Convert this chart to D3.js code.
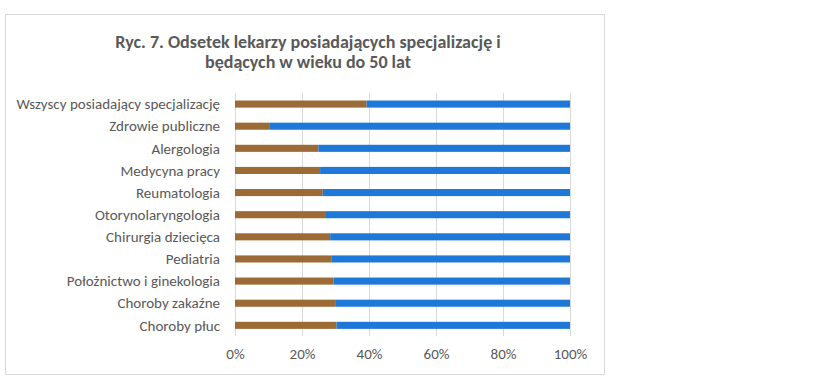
<!DOCTYPE html>
<html>
<head>
<meta charset="utf-8">
<script src="https://cdn.jsdelivr.net/npm/d3@7"></script>
<style>
  body { margin: 0; background: #fff; }
  text { font-family: Carlito, "Open Sans", sans-serif; }
</style>
</head>
<body>
<script>
var w = 814;
var h = 388;

// categories top to bottom
var categories = [
  'Wszyscy posiadający specjalizację',
  'Zdrowie publiczne',
  'Alergologia',
  'Medycyna pracy',
  'Reumatologia',
  'Otorynolaryngologia',
  'Chirurgia dziecięca',
  'Pediatria',
  'Położnictwo i ginekologia',
  'Choroby zakaźne',
  'Choroby płuc'
];
// share of doctors aged up to 50 (%)
var under50 = [39.3, 10.2, 24.9, 25.4, 26.2, 26.9, 28.4, 28.9, 29.4, 29.9, 30.3];
var over50 = under50.map(function(v){ return 100 - v; });
var xTicks = [0, 20, 40, 60, 80, 100];
var titleLines = ['Ryc. 7. Odsetek lekarzy posiadających specjalizację i', 'będących w wieku do 50 lat'];

var svg = d3.select('body').append('svg')
    .attr('width', w)
    .attr('height', h);

// chart frame
svg.append('rect')
    .attr('x', 5.5).attr('y', 14.5)
    .attr('width', 599).attr('height', 360)
    .attr('fill', '#fff')
    .attr('stroke', '#d9d9d9');

svg.selectAll('.title').data(titleLines).enter().append('text')
    .attr('class', 'title')
    .attr('x', 308)
    .attr('y', function(d, i){ return 48 + i * 20; })
    .attr('text-anchor', 'middle')
    .attr('font-size', 18)
    .attr('font-weight', 'bold')
    .attr('fill', '#595959')
    .text(function(d){ return d; });

var x = d3.scaleLinear().domain([0, 100]).range([235, 570]);
var y = d3.scaleBand().domain(categories).range([93, 336.4])
    .paddingInner(0.68).paddingOuter(0.34);

// gridlines
svg.selectAll('.grid').data(xTicks).enter().append('line')
    .attr('x1', function(d){ return x(d) + 0.5; })
    .attr('x2', function(d){ return x(d) + 0.5; })
    .attr('y1', 93).attr('y2', 336)
    .attr('stroke', '#d9d9d9');

var rows = svg.selectAll('.row').data(categories).enter().append('g')
    .attr('transform', function(d){ return 'translate(0,' + y(d) + ')'; });

rows.append('rect')
    .attr('x', x(0))
    .attr('width', function(d, i){ return x(under50[i]) - x(0); })
    .attr('height', y.bandwidth())
    .attr('fill', '#9c6a35');

rows.append('rect')
    .attr('x', function(d, i){ return x(under50[i]); })
    .attr('width', function(d, i){ return x(under50[i] + over50[i]) - x(under50[i]); })
    .attr('height', y.bandwidth())
    .attr('fill', '#1e78d8');

rows.append('text')
    .attr('x', 220)
    .attr('y', y.bandwidth() / 2)
    .attr('dy', '0.35em')
    .attr('text-anchor', 'end')
    .attr('font-size', 15)
    .attr('fill', '#595959')
    .text(function(d){ return d; });

// x axis labels
var xAxis = d3.axisBottom(x).tickValues(xTicks)
    .tickFormat(function(d){ return d + '%'; })
    .tickSize(0).tickPadding(6);
var ax = svg.append('g').attr('transform', 'translate(0,342)').call(xAxis);
ax.select('.domain').remove();
ax.selectAll('text')
    .attr('font-size', 15)
    .attr('font-family', 'Carlito, "Open Sans", sans-serif')
    .attr('fill', '#595959');
</script>
</body>
</html>
